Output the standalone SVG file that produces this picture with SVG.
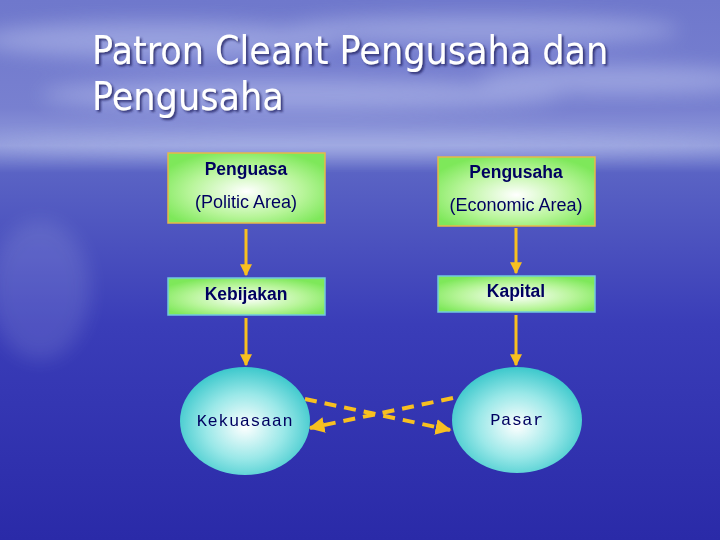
<svg xmlns="http://www.w3.org/2000/svg" width="720" height="540" viewBox="0 0 720 540">
<defs>
<linearGradient id="bg" x1="0" y1="0" x2="0" y2="1">
<stop offset="0" stop-color="#6f78cc"/>
<stop offset="0.2" stop-color="#7880d0"/>
<stop offset="0.27" stop-color="#929cdc"/>
<stop offset="0.32" stop-color="#5a63c4"/>
<stop offset="0.6" stop-color="#3a3db8"/>
<stop offset="1" stop-color="#2a2aa8"/>
</linearGradient>
<radialGradient id="boxg" cx="0.5" cy="0.55" r="0.6">
<stop offset="0" stop-color="#ffffff"/>
<stop offset="0.6" stop-color="#b8f59a"/>
<stop offset="1" stop-color="#7ee85a"/>
</radialGradient>
<radialGradient id="ellg" cx="0.5" cy="0.55" r="0.55">
<stop offset="0" stop-color="#ffffff"/>
<stop offset="0.55" stop-color="#9ae8e8"/>
<stop offset="1" stop-color="#3cc8cc"/>
</radialGradient>
<filter id="blur" x="-20%" y="-50%" width="140%" height="200%"><feGaussianBlur stdDeviation="10"/></filter>
<filter id="shadow" x="-5%" y="-5%" width="110%" height="120%"><feDropShadow dx="2" dy="2" stdDeviation="1" flood-color="#202060" flood-opacity="0.8"/></filter>
<marker id="ah" viewBox="0 0 10 10" refX="9" refY="5" markerWidth="4" markerHeight="4" orient="auto" markerUnits="strokeWidth">
<path d="M0,0 L10,5 L0,10 z" fill="#f8c020"/>
</marker>
</defs>
<style>
.box{fill:url(#boxg);stroke:#e8b848;stroke-width:1.5}
.box2{fill:url(#boxg);stroke:#70c8e0;stroke-width:1.5}
.ell{fill:url(#ellg)}
.bt{font-family:"Liberation Sans",Arial,sans-serif;font-size:18px;fill:#000060;text-anchor:middle}
.b{font-weight:bold;font-size:17.5px}
.et{font-family:"Liberation Mono","Courier New",monospace;font-size:17px;letter-spacing:0.5px;fill:#000060;text-anchor:middle}
.title{font-family:"DejaVu Sans Condensed","DejaVu Sans",Tahoma,sans-serif;font-size:39px;fill:#ffffff}
.arr{stroke:#f8c020;stroke-width:3;fill:none;marker-end:url(#ah)}
.dash{stroke:#f8c020;stroke-width:4;fill:none;stroke-dasharray:12,8;marker-end:url(#ah)}
</style>
<rect width="720" height="540" fill="url(#bg)"/>
<g filter="url(#blur)" fill="#c8d0f4" opacity="0.45">
<ellipse cx="160" cy="40" rx="180" ry="18"/>
<ellipse cx="480" cy="30" rx="200" ry="14"/>
<ellipse cx="300" cy="95" rx="260" ry="16"/>
<ellipse cx="620" cy="80" rx="140" ry="14"/>
<ellipse cx="360" cy="145" rx="380" ry="8"/>
<ellipse cx="40" cy="290" rx="50" ry="70" opacity="0.35"/>
</g>
<g id="title" filter="url(#shadow)">
<text class="title" x="92" y="64">Patron Cleant Pengusaha dan</text>
<text class="title" x="92" y="110">Pengusaha</text>
</g>
<g id="connectors">
<line class="arr" x1="246" y1="229" x2="246" y2="275"/>
<line class="arr" x1="516" y1="228" x2="516" y2="273"/>
<line class="arr" x1="246" y1="318" x2="246" y2="365"/>
<line class="arr" x1="516" y1="315" x2="516" y2="365"/>
<path class="dash" d="M305,399 L450,430"/>
<path class="dash" d="M453,398 L310,428"/>
</g>
<g id="penguasa">
<rect class="box" x="168" y="153" width="157" height="70"/>
<text class="bt b" x="246" y="175">Penguasa</text>
<text class="bt" x="246" y="208">(Politic Area)</text>
</g>
<g id="pengusaha">
<rect class="box" x="438" y="157" width="157" height="69"/>
<text class="bt b" x="516" y="178">Pengusaha</text>
<text class="bt" x="516" y="211">(Economic Area)</text>
</g>
<g id="kebijakan">
<rect class="box2" x="168" y="278" width="157" height="37"/>
<text class="bt b" x="246" y="300">Kebijakan</text>
</g>
<g id="kapital">
<rect class="box2" x="438" y="276" width="157" height="36"/>
<text class="bt b" x="516" y="297">Kapital</text>
</g>
<g id="kekuasaan">
<ellipse class="ell" cx="245" cy="421" rx="65" ry="54"/>
<text class="et" x="245" y="426">Kekuasaan</text>
</g>
<g id="pasar">
<ellipse class="ell" cx="517" cy="420" rx="65" ry="53"/>
<text class="et" x="517" y="425">Pasar</text>
</g>
</svg>
